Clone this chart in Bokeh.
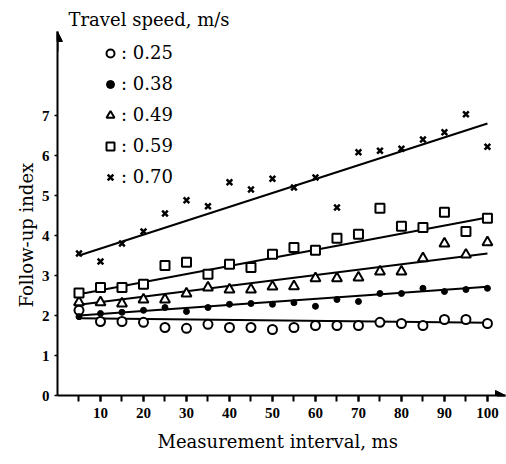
import math
from bokeh.plotting import figure
from bokeh.models import (Range1d, FixedTicker, Arrow, NormalHead, Title,
                          Legend, LegendItem)
from bokeh.embed import file_html
from bokeh.resources import INLINE

# ---- data -------------------------------------------------------------
interval_ms = [5, 10, 15, 20, 25, 30, 35, 40, 45, 50,
               55, 60, 65, 70, 75, 80, 85, 90, 95, 100]
speed_labels = ["0.25", "0.38", "0.49", "0.59", "0.70"]

idx_025 = [2.13, 1.85, 1.85, 1.83, 1.70, 1.68, 1.78, 1.70, 1.70, 1.65,
           1.70, 1.75, 1.75, 1.75, 1.83, 1.80, 1.75, 1.90, 1.90, 1.80]
idx_038 = [1.97, 2.05, 2.08, 2.13, 2.20, 2.10, 2.20, 2.28, 2.30, 2.28,
           2.32, 2.23, 2.40, 2.35, 2.55, 2.55, 2.68, 2.60, 2.65, 2.68]
idx_049 = [2.33, 2.33, 2.30, 2.40, 2.40, 2.55, 2.70, 2.65, 2.65, 2.72,
           2.73, 2.93, 2.93, 2.95, 3.10, 3.10, 3.43, 3.80, 3.52, 3.83]
idx_059 = [2.56, 2.70, 2.70, 2.78, 3.25, 3.33, 3.03, 3.28, 3.20, 3.53,
           3.70, 3.63, 3.93, 4.03, 4.68, 4.23, 4.20, 4.58, 4.10, 4.43]
idx_070 = [3.55, 3.35, 3.80, 4.10, 4.55, 4.88, 4.73, 5.33, 5.15, 5.42,
           5.20, 5.45, 4.70, 6.08, 6.12, 6.17, 6.40, 6.58, 7.03, 6.22]

# fitted trend lines (values at the first and last interval)
fit_x = [5, 100]
fit_025 = [1.93, 1.82]
fit_038 = [2.00, 2.72]
fit_049 = [2.27, 3.55]
fit_059 = [2.53, 4.45]
fit_070 = [3.50, 6.80]

x_label_ticks = [10, 20, 30, 40, 50, 60, 70, 80, 90, 100]
x_all_ticks = interval_ms
y_ticks = [0, 1, 2, 3, 4, 5, 6, 7]

X_END = 104.2
Y_END = 9.1

# ---- figure -----------------------------------------------------------
p = figure(width=506, height=464, output_backend="svg", toolbar_location=None,
           x_range=Range1d(0, X_END), y_range=Range1d(0, Y_END),
           min_border_left=57, min_border_right=1, min_border_top=31,
           min_border_bottom=69)
p.xgrid.visible = False
p.ygrid.visible = False
p.outline_line_color = None
p.background_fill_color = "white"

serif = "DejaVu Serif"
tick_font = "Liberation Serif"

p.xaxis.ticker = FixedTicker(ticks=x_label_ticks, minor_ticks=x_all_ticks)
p.yaxis.ticker = FixedTicker(ticks=y_ticks, minor_ticks=[])
for ax in (p.xaxis[0], p.yaxis[0]):
    ax.axis_line_width = 2
    ax.axis_line_color = "black"
    ax.major_tick_in = 0
    ax.minor_tick_in = 0
    ax.major_tick_line_color = "black"
    ax.minor_tick_line_color = "black"
    ax.major_label_text_font = tick_font
    ax.major_label_text_font_style = "bold"
    ax.major_label_text_font_size = "15px"
    ax.major_label_text_color = "black"
p.xaxis.major_tick_out = 6
p.xaxis.minor_tick_out = 6
p.xaxis.major_tick_line_width = 2
p.xaxis.minor_tick_line_width = 2
p.xaxis.major_label_standoff = 6
p.yaxis.major_tick_out = 3
p.yaxis.major_tick_line_width = 1.5
p.yaxis.major_label_standoff = 5

# axis arrows
p.add_layout(Arrow(end=NormalHead(size=10, fill_color="black", line_color="black"),
                   x_start=0, y_start=Y_END - 0.5, x_end=0, y_end=Y_END,
                   line_width=2, line_color="black"))
p.add_layout(Arrow(end=NormalHead(size=10, fill_color="black", line_color="black"),
                   x_start=X_END - 2, y_start=0, x_end=X_END, y_end=0,
                   line_width=2, line_color="black"))

# trend lines
for fy in (fit_025, fit_038, fit_049, fit_059, fit_070):
    p.line(fit_x, fy, line_color="black", line_width=2)

r025 = p.scatter(interval_ms, idx_025, marker="circle", size=9,
                 fill_color="white", line_color="black", line_width=2)
r038 = p.scatter(interval_ms, idx_038, marker="circle", size=6,
                 fill_color="black", line_color="black", line_width=1)
r049 = p.scatter(interval_ms, idx_049, marker="triangle", size=10,
                 fill_color="white", line_color="black", line_width=2)
r059 = p.scatter(interval_ms, idx_059, marker="square", size=9,
                 fill_color="white", line_color="black", line_width=2)
r070 = p.scatter(interval_ms, idx_070, marker="x", size=8,
                 line_color="black", line_width=2.5)

legend = Legend(items=[LegendItem(label=": " + s, renderers=[r])
                       for s, r in zip(speed_labels,
                                       [r025, r038, r049, r059, r070])],
                location=(43, 208), padding=0, margin=0, spacing=10,
                glyph_width=20, glyph_height=20, label_height=20,
                label_standoff=1, border_line_alpha=0,
                background_fill_alpha=0,
                label_text_font=serif, label_text_font_size="18px",
                label_text_color="black")
p.add_layout(legend, "center")

# legend heading (top)
p.title.text = "Travel speed, m/s"
p.title.align = "left"
p.title.offset = 11
p.title.standoff = 4
p.title.text_font = serif
p.title.text_font_size = "18px"
p.title.text_font_style = "normal"
p.title.text_color = "black"

# axis titles
p.add_layout(Title(text="Measurement interval, ms", align="left", offset=100,
                   vertical_align="middle", standoff=18, text_font=serif,
                   text_font_size="18px", text_font_style="normal",
                   text_color="black"), "below")
p.add_layout(Title(text="Follow-up index", align="left", offset=88,
                   vertical_align="bottom", standoff=4, text_font=serif,
                   text_font_size="18px", text_font_style="normal",
                   text_color="black"), "left")

open("out.html", "w").write(file_html(p, INLINE))
